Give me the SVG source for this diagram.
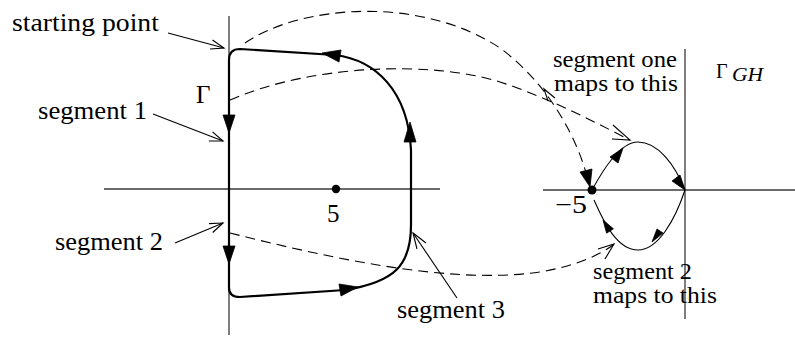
<svg xmlns="http://www.w3.org/2000/svg" width="795" height="349" viewBox="0 0 795 349">
<style>
.axis{stroke:#3a3a3a;stroke-width:1.3;fill:none}
.contour{stroke:#000;stroke-width:2.2;fill:none;stroke-linejoin:round}
.thin{stroke:#000;stroke-width:1.1;fill:none}
.dash{stroke:#000;stroke-width:1.1;fill:none;stroke-dasharray:10 6}
.head{fill:#000;stroke:#000;stroke-width:0.8;stroke-linejoin:miter}
.open{stroke:#000;stroke-width:1.1;fill:none}
</style>
<g id="left-axes">
<line class="axis" x1="229" y1="16" x2="229" y2="335"/>
<line class="axis" x1="104" y1="189" x2="440" y2="189"/>
</g>
<g id="right-axes">
<line class="axis" x1="685" y1="49" x2="685" y2="319"/>
<line class="axis" x1="543" y1="190" x2="795" y2="190"/>
</g>
<g id="contour-gamma">
<path class="contour" d="M229,60 Q229,49 240,49 L335,55 C375,60 408,90 411,150 L411,225 C411,265 395,282 345,290 L240,297 Q229,297 229,288 Z"/>
<polygon class="head" points="229,133 223,115 235,115"/>
<polygon class="head" points="229,264 223,246 235,246"/>
<polygon class="head" points="410,122 404,142 416,142"/>
<polygon class="head" points="322,53 341,50 339,62"/>
<polygon class="head" points="358,287 339,284 341,296"/>
<circle cx="336" cy="189" r="4.2" fill="#000"/>
</g>
<g id="contour-gh">
<path class="thin" d="M592,190 C603,170 620,142 638,142 C658,142 675,165 685,190"/>
<path class="thin" d="M594,200 C605,225 618,250 638,250 C658,250 675,220 685,190"/>
<polygon class="head" points="623,148 618,163 610,157"/>
<polygon class="head" points="685,190 680,175 672,181"/>
<polygon class="head" points="652,242 663,233 657,229"/>
<polygon class="head" points="603,220 613.4,228.8 606.6,233.2"/>
<circle cx="592" cy="190" r="4.5" fill="#000"/>
</g>
<g id="connectors">
<path class="dash" d="M245,43 C300,5 420,-5 500,48 C550,85 578,140 588,180"/>
<polygon class="head" points="590,187 592,169 580,172"/>
<path class="dash" d="M230,100 C310,65 430,60 500,82 C550,98 600,125 630,140"/>
<polyline class="open" points="613,125 630,140 612,139"/>
<path class="dash" d="M230,233 C330,258 450,285 540,272 C575,266 600,255 613,245"/>
<polyline class="open" points="605,259 614,244 598,249"/>
<polyline class="open" points="555,98 544,89 548,101"/>
<line class="thin" x1="168" y1="33" x2="224" y2="48"/>
<polyline class="open" points="210,49 224,48 212.5,40"/>
<line class="thin" x1="153" y1="114" x2="223" y2="141"/>
<polyline class="open" points="209,141 223,141 212.5,131.8"/>
<line class="thin" x1="175" y1="243" x2="223" y2="223"/>
<polyline class="open" points="212.7,232.5 223,223 209,223.6"/>
<line class="thin" x1="457" y1="298" x2="413" y2="233"/>
<polyline class="open" points="426,243 413,233 417,249"/>
</g>
<g id="labels" fill="#000">
<text font-family="Liberation Serif" font-size="25" transform="translate(12,31) scale(1.108,1)">starting point</text>
<text font-family="Liberation Serif" font-size="25" transform="translate(38,119) scale(1.068,1)">segment 1</text>
<text font-family="Liberation Serif" font-size="25" transform="translate(55,250) scale(1.058,1)">segment 2</text>
<text font-family="Liberation Serif" font-size="25" x="196" y="103">Γ</text>
<text font-family="Liberation Serif" font-size="25" x="327" y="222">5</text>
<text font-family="Liberation Serif" font-size="25" transform="translate(397,318) scale(1.058,1)">segment 3</text>
<text font-family="Liberation Serif" font-size="23" transform="translate(553,67) scale(1.073,1)">segment one</text>
<text font-family="Liberation Serif" font-size="23" transform="translate(554,91) scale(1.115,1)">maps to this</text>
<text font-family="Liberation Serif" font-size="20" x="716" y="78">Γ</text>
<text font-family="Liberation Serif" font-size="18" font-style="italic" transform="translate(732,81) scale(1.2,1)">GH</text>
<text font-family="Liberation Serif" font-size="25" transform="translate(555,213) scale(1.2,1)">−5</text>
<text font-family="Liberation Serif" font-size="23" transform="translate(593,279) scale(1.054,1)">segment 2</text>
<text font-family="Liberation Serif" font-size="23" transform="translate(593,303) scale(1.115,1)">maps to this</text>
</g>
</svg>
